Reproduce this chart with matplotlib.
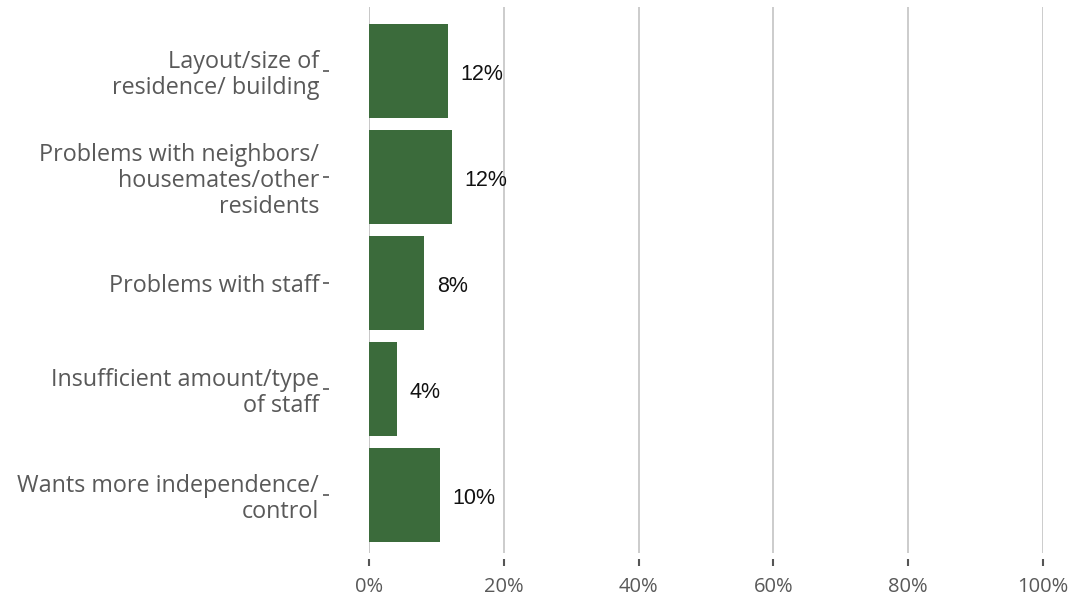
import matplotlib
matplotlib.use("Agg")
from matplotlib import pyplot as plt

categories = [
    "Layout/size of\nresidence/ building",
    "Problems with neighbors/\nhousemates/other\nresidents",
    "Problems with staff",
    "Insufficient amount/type\nof staff",
    "Wants more independence/\ncontrol",
]
values = [11.7, 12.3, 8.2, 4.2, 10.5]
value_labels = ["12%", "12%", "8%", "4%", "10%"]
x_ticks = [0, 20, 40, 60, 80, 100]
x_tick_labels = ["0%", "20%", "40%", "60%", "80%", "100%"]

bar_color = "#3b6b3b"
label_color = "#595959"

fig = plt.figure(figsize=(10.7, 5.98), dpi=100)
ax = fig.add_axes([0.3449, 0.0753, 0.6299, 0.9125])

for s in ax.spines.values():
    s.set_visible(False)
ax.spines["left"].set_position(("outward", 29))
ax.spines["bottom"].set_position(("outward", 4))
ax.tick_params(axis="y", length=4, width=1.2, color="#555555", pad=3)
ax.tick_params(axis="x", length=5, width=1.5, color="#555555", pad=8)

pos = list(range(len(categories)))
ax.barh(pos, values, height=0.887, color=bar_color, zorder=3)

for p, v, lab in zip(pos, values, value_labels):
    ax.annotate(lab, (v, p), xytext=(9, -2.5), textcoords="offset points",
                ha="left", va="center", fontsize=15.5, color="#111111",
                family="Liberation Sans")

ax.set_xlim(0, 100)
ax.set_ylim(4.544, -0.603)
ax.set_xticks(x_ticks)
ax.set_xticklabels(x_tick_labels, fontsize=14.5, family="Open Sans", color=label_color)
ax.set_yticks(pos)
ax.set_yticklabels(categories, fontsize=16.8, family="Open Sans", color=label_color,
                   linespacing=1.12)

ax.grid(axis="x", color="#c8c8c8", linewidth=1.3, zorder=0)
ax.axvline(0, color="#c8c8c8", linewidth=1.3, zorder=1)

plt.savefig("out.png", dpi=100)
